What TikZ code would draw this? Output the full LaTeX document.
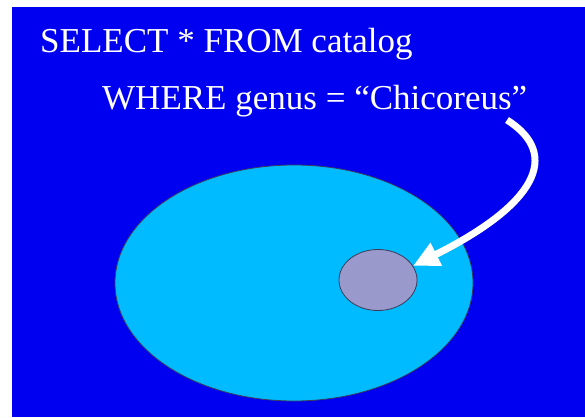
\documentclass[tikz,border=0pt]{standalone}
\usepackage{fontspec}
\setmainfont{Liberation Serif}
\usetikzlibrary{arrows.meta,shapes.geometric}
\definecolor{bgblue}{RGB}{0,0,240}
\definecolor{setcyan}{RGB}{0,187,255}
\definecolor{subset}{RGB}{153,153,204}
\definecolor{edgegrey}{RGB}{60,60,90}
\tikzset{
  setshape/.style={ellipse, draw=edgegrey, line width=0.8pt, inner sep=0pt},
  querytext/.style={text=white, font=\fontsize{35}{38}\selectfont, anchor=base west, inner sep=0pt},
  pointer/.style={white, line width=7pt, -{Triangle[width=24pt,length=26pt]}}
}
\begin{document}
\begin{tikzpicture}[x=1pt,y=-1pt]
\useasboundingbox (0,0) rectangle (585,417);
\fill[bgblue] (12,7) rectangle (585,417);
\node[setshape, fill=setcyan, minimum width=358pt, minimum height=236pt] (catalog) at (294,283) {};
\node[setshape, fill=subset, minimum width=78pt, minimum height=61pt] (chic) at (378,280) {};
\node[querytext] (select) at (40,53) {SELECT * FROM catalog};
\node[querytext] (where) at (102,110) {WHERE genus = “Chicoreus”};
\coordinate (start) at (507,120);
\draw[pointer] (start) .. controls (562,155) and (535,205) .. (chic.22);
\end{tikzpicture}
\end{document}
